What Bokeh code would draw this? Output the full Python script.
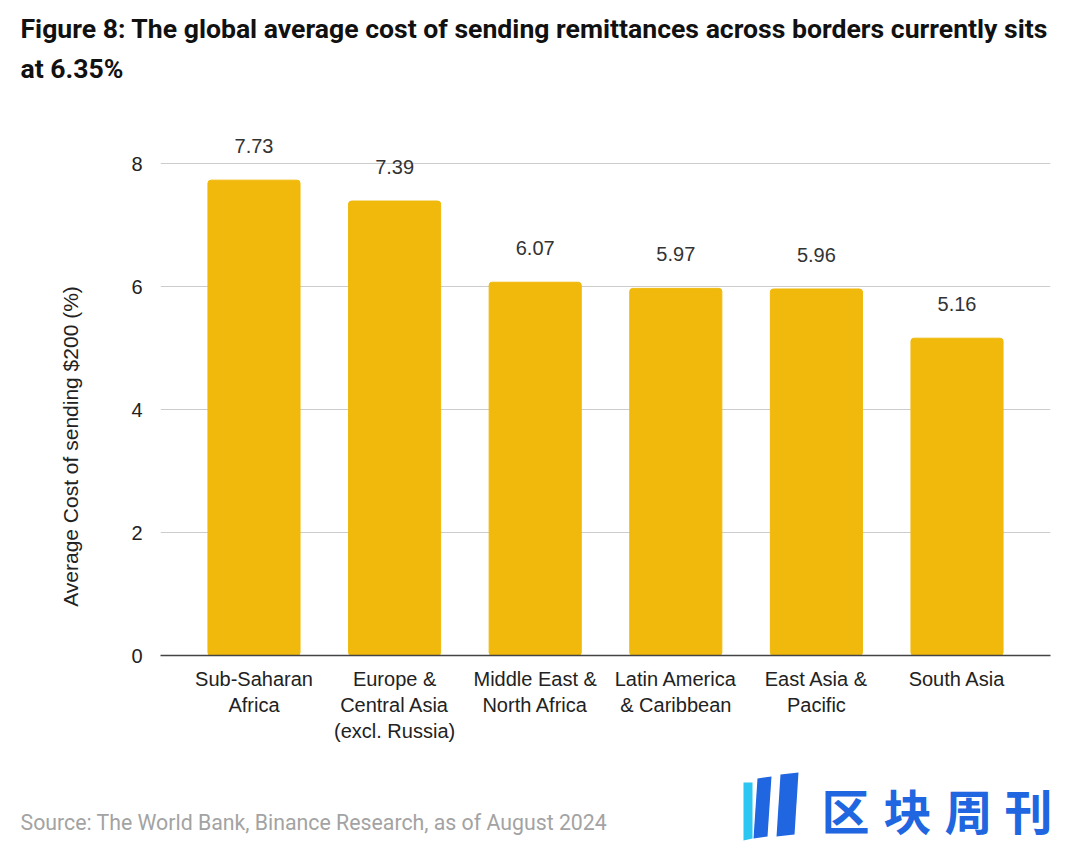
import math
from bokeh.plotting import figure
from bokeh.models import ColumnDataSource, Range1d, FixedTicker
from bokeh.layouts import column, row
from bokeh.core.properties import value
from bokeh.embed import file_html
from bokeh.resources import INLINE

categories = ["Sub-Saharan\nAfrica", "Europe &\nCentral Asia\n(excl. Russia)",
              "Middle East &\nNorth Africa", "Latin America\n& Caribbean",
              "East Asia &\nPacific", "South Asia"]
costs = [7.73, 7.39, 6.07, 5.97, 5.96, 5.16]
y_ticks = [0, 2, 4, 6, 8]
y_title = "Average Cost of sending $200 (%)"
title_lines = ["Figure 8: The global average cost of sending remittances across borders currently sits",
               "at 6.35%"]
source_text = "Source: The World Bank, Binance Research, as of August 2024"
brand_chars = ["区", "块", "周", "刊"]

W, H = 1080, 855
HEAD_H, MAIN_H = 108, 662
FOOT_H = H - HEAD_H - MAIN_H
LEFT_W = 100


def blank(width, height, x0, y0):
    f = figure(width=width, height=height, output_backend="svg", toolbar_location=None,
               x_range=Range1d(x0, x0 + width), y_range=Range1d(y0 + height, y0),
               min_border=0, x_axis_type=None, y_axis_type=None, frame_align=False)
    f.outline_line_color = None
    f.xgrid.visible = False
    f.ygrid.visible = False
    return f


# ---------- header (title) ----------
head = blank(W, HEAD_H, 0, 0)
head.text(x=[20, 20], y=[28, 68], text=title_lines, text_font=value("Roboto"),
          text_font_style="bold", text_font_size="26.6px", text_color="#111111",
          text_baseline="middle", text_align="left")

# ---------- y-axis title strip ----------
yl = blank(LEFT_W, MAIN_H, 0, HEAD_H)
yl.text(x=[70], y=[446], text=[y_title], angle=math.pi / 2, text_font=value("Liberation Sans"),
        text_font_size="21px", text_color="#222222", text_baseline="middle", text_align="center")

# ---------- main chart ----------
xs = list(range(len(categories)))
src = ColumnDataSource(dict(x=xs, cost=costs, lbl=[f"{v:.2f}" for v in costs]))

p = figure(width=W - LEFT_W, height=MAIN_H, output_backend="svg", toolbar_location=None,
           x_range=Range1d(-0.665, len(categories) - 1 + 0.665), y_range=Range1d(0, 8.7),
           min_border_left=160 - LEFT_W, min_border_right=30, min_border_top=12,
           min_border_bottom=115, frame_align=False)
p.outline_line_color = None

p.vbar(x="x", top="cost", width=0.655, source=src, color="#F0B90B", border_radius=3)
p.text(x="x", y="cost", text="lbl", source=src, text_align="center", text_baseline="bottom",
       y_offset=-27, text_font=value("Liberation Sans"), text_font_size="20px", text_color="#333333")

p.xgrid.grid_line_color = None
p.ygrid.grid_line_color = "#cccccc"
p.yaxis.ticker = FixedTicker(ticks=y_ticks)
p.yaxis.axis_line_color = None
p.yaxis.major_tick_line_color = None
p.yaxis.minor_tick_line_color = None
p.yaxis.major_label_text_font = "Liberation Sans"
p.yaxis.major_label_text_font_size = "20px"
p.yaxis.major_label_text_color = "#222222"
p.yaxis.major_label_standoff = 12

p.xaxis.ticker = FixedTicker(ticks=xs)
p.xaxis.major_label_overrides = {i: c for i, c in zip(xs, categories)}
p.xaxis.axis_line_color = "#444444"
p.xaxis.axis_line_width = 1.5
p.xaxis.major_tick_line_color = None
p.xaxis.minor_tick_line_color = None
p.xaxis.major_label_text_font = "Liberation Sans"
p.xaxis.major_label_text_font_size = "20px"
p.xaxis.major_label_text_color = "#222222"
p.xaxis.major_label_standoff = 6

# ---------- footer (source + brand) ----------
top = HEAD_H + MAIN_H
foot = blank(W, FOOT_H, 0, top)
foot.text(x=[20], y=[822], text=[source_text], text_font=value("Roboto"),
          text_font_size="21.3px", text_color="#a3a3a3", text_baseline="middle", text_align="left")
foot.patches(xs=[[743, 752, 752, 743], [757, 771, 767, 753], [780, 798, 794, 776]],
             ys=[[782, 782, 838, 840], [778, 776, 836, 838], [774, 772, 834, 836]],
             color=["#2cc6f2", "#1f66e0", "#1f66e0"], line_color=None)
foot.text(x=[845, 907, 968, 1028], y=[808] * 4, text=brand_chars,
          text_font=value("Noto Sans CJK SC"), text_font_style="bold", text_font_size="48px",
          text_color="#1f66e0", text_baseline="middle", text_align="center")

layout = column(head, row(yl, p, spacing=0), foot, spacing=0)
open("out.html", "w").write(file_html(layout, INLINE))
